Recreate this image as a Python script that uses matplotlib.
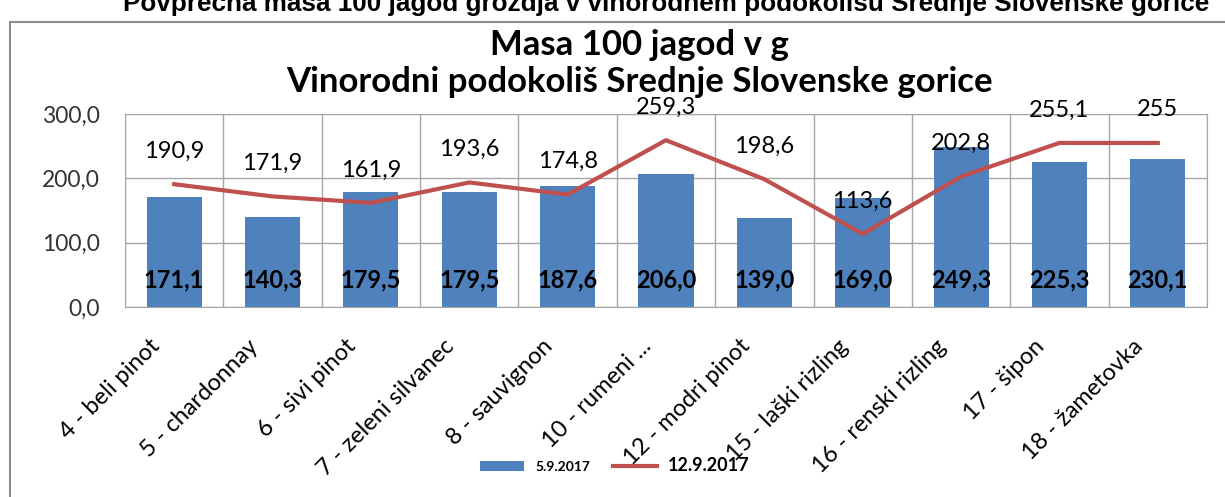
import matplotlib
matplotlib.use('Agg')
import matplotlib.pyplot as plt
import matplotlib.transforms as mtransforms
from matplotlib.patches import Rectangle

# podatki
sorte = ['4 - beli pinot', '5 - chardonnay', '6 - sivi pinot', '7 - zeleni silvanec',
         '8 - sauvignon', '10 - rumeni ...', '12 - modri pinot', '15 - laški rizling',
         '16 - renski rizling', '17 - šipon', '18 - žametovka']
masa_0509 = [171.1, 140.3, 179.5, 179.5, 187.6, 206.0, 139.0, 169.0, 249.3, 225.3, 230.1]
masa_1209 = [190.9, 171.9, 161.9, 193.6, 174.8, 259.3, 198.6, 113.6, 202.8, 255.1, 255.0]
y_ticks = [0, 100, 200, 300]

plt.rcParams['font.family'] = ['Lato', 'DejaVu Sans']

fig = plt.figure(figsize=(12.25, 4.97), dpi=100)
ax = fig.add_axes([0.102, 0.3823, 0.8833, 0.3883])

x = list(range(len(sorte)))
bars = ax.bar(x, masa_0509, width=0.56, color='#4F81BD', zorder=2, label='5.9.2017')
line, = ax.plot(x, masa_1209, color='#C0504D', lw=3, zorder=3, label='12.9.2017')

# oznake podatkov
for i in x:
    ax.annotate('{:.1f}'.format(masa_0509[i]).replace('.', ','), (i, 0),
                xytext=(0, 27), textcoords='offset pixels', ha='center', va='center',
                fontsize=17, fontweight='bold', zorder=4)
    ax.annotate('{:g}'.format(masa_1209[i]).replace('.', ','), (i, masa_1209[i]),
                xytext=(0, 33), textcoords='offset pixels', ha='center', va='center',
                fontsize=17, zorder=4)

ax.set_xlim(-0.5, len(sorte) - 0.5)
ax.set_ylim(0, 300)
ax.set_yticks(y_ticks)
ax.set_yticklabels(['{:.1f}'.format(v).replace('.', ',') for v in y_ticks],
                   fontsize=16.5, color='#333333')
ax.set_xticks(x)
ax.set_xticks([i - 0.5 for i in range(len(sorte) + 1)], minor=True)
ax.tick_params(axis='both', which='both', length=0)
ax.tick_params(axis='y', pad=18)
ax.tick_params(axis='x', pad=0)
ax.set_xticklabels(sorte, rotation=45, ha='right', va='center',
                   rotation_mode='anchor', fontsize=17)
offset = mtransforms.ScaledTranslation(-0.18, -0.36, fig.dpi_scale_trans)
for lab in ax.get_xticklabels():
    lab.set_transform(lab.get_transform() + offset)
ax.grid(axis='y', which='major', color='#A6A6A6', lw=1, zorder=0)
ax.grid(axis='x', which='minor', color='#A6A6A6', lw=1, zorder=0)
for s in ax.spines.values():
    s.set_color('#A6A6A6')

# naslovi
fig.text(0.5437, 0.978, 'Povprečna masa 100 jagod grozdja v vinorodnem podokolišu Srednje Slovenske gorice',
         ha='center', va='baseline', fontsize=18.8, fontweight='bold', family='Liberation Sans')
fig.text(0.522, 0.909, 'Masa 100 jagod v g', ha='center', va='center', fontsize=25, fontweight='bold')
fig.text(0.522, 0.835, 'Vinorodni podokoliš Srednje Slovenske gorice', ha='center', va='center',
         fontsize=25, fontweight='bold')

# okvir
fig.add_artist(Rectangle((0.008, -0.1), 1.2, 0.9557 + 0.1, transform=fig.transFigure,
                         fill=False, edgecolor='#8C8C8C', lw=1.5))

leg = fig.legend([bars, line], ['5.9.2017', '12.9.2017'], loc='center',
                 bbox_to_anchor=(0.502, 0.064), ncol=2, frameon=False,
                 handlelength=3.2, columnspacing=1.6, prop={'size': 10, 'weight': 'bold'})
leg.get_texts()[1].set_fontsize(13)

plt.savefig('out.png', dpi=100)
